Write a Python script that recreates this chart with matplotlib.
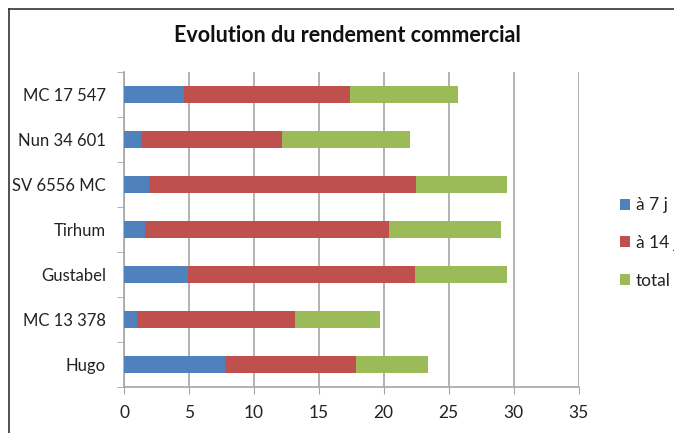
import numpy as np
import matplotlib.pyplot as plt
from matplotlib.lines import Line2D

# Varieties (bottom to top as drawn)
varieties = ["Hugo", "MC 13 378", "Gustabel", "Tirhum", "SV 6556 MC", "Nun 34 601", "MC 17 547"]

# Stacked segments
j7 = [7.8, 1.0, 4.9, 1.6, 1.9, 1.3, 4.6]
j14 = [10.1, 12.2, 17.5, 18.8, 20.6, 10.9, 12.8]
total = [5.5, 6.5, 7.1, 8.6, 7.0, 9.8, 8.3]

series_names = ["à 7 j", "à 14 j", "total"]
colors = ["#4F81BD", "#C0504D", "#9BBB59"]

plt.rcParams["font.family"] = ["Lato", "DejaVu Sans"]

fig = plt.figure(figsize=(6.74, 4.33), dpi=100)
W, H = 674, 433
ax = fig.add_axes([124 / W, 1 - 387 / H, (578.5 - 124) / W, (387 - 72) / H])

y = np.arange(len(varieties))
left = np.zeros(len(varieties))
handles = []
for vals, name, c in zip([j7, j14, total], series_names, colors):
    b = ax.barh(y, vals, left=left, height=0.39, color=c, label=name, zorder=3)
    handles.append(b)
    left += np.array(vals)

grey = "#A6A6A6"
ax.set_xlim(0, 35)
ax.set_ylim(-0.5, len(varieties) - 0.5)
ax.set_xticks(range(0, 36, 5))
ax.tick_params(axis="x", direction="out", length=5, color=grey,
               labelsize=12.5, labelcolor="#222222", pad=8)

# category labels, ticks at boundaries
ax.set_yticks(y)
ax.set_yticklabels(varieties)
ax.tick_params(axis="y", length=0, labelsize=12, labelcolor="#222222", pad=13)
ax.set_yticks(np.arange(-0.5, len(varieties)), minor=True)
ax.tick_params(axis="y", which="minor", direction="out", length=5, color=grey)

ax.grid(axis="x", color=grey, linewidth=1.2, zorder=0)
for s in ["top", "right"]:
    ax.spines[s].set_visible(False)
for s in ["left", "bottom"]:
    ax.spines[s].set_color(grey)
    ax.spines[s].set_linewidth(1.2)

fig.text(347 / W, 1 - 36 / H, "Evolution du rendement commercial",
         ha="center", va="center", fontsize=15.5, fontweight="bold", color="#111111")

fig.legend(handles=handles, labels=series_names, loc="center left",
           bbox_to_anchor=(604 / W, 1 - 243 / H), frameon=False,
           fontsize=12.5, handlelength=0.6, handleheight=0.6, handletextpad=0.35,
           labelspacing=1.25, labelcolor="#222222")

# outer chart border (cropped screenshot)
fig.add_artist(Line2D([9 / W, 9 / W], [0, 1 - 9 / H], transform=fig.transFigure,
                      color="#333333", linewidth=1.2))
fig.add_artist(Line2D([9 / W, 1], [1 - 9 / H, 1 - 9 / H], transform=fig.transFigure,
                      color="#333333", linewidth=1.2))

fig.savefig("out.png", dpi=100)
